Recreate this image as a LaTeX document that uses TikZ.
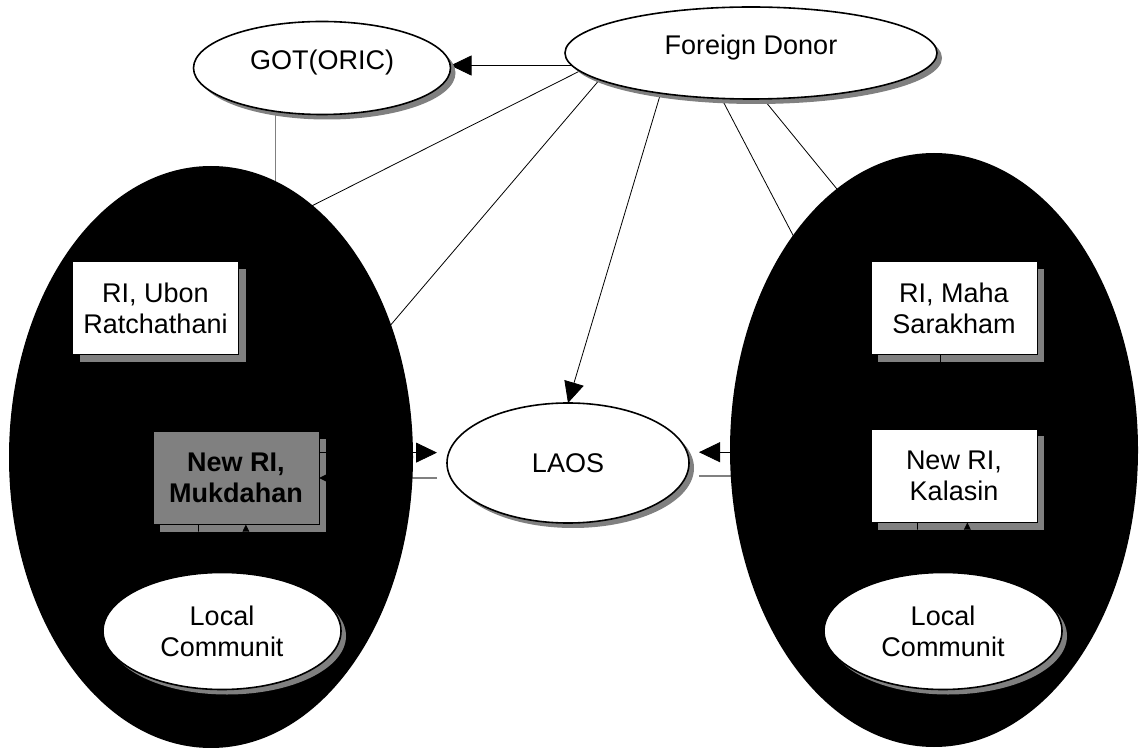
\documentclass[tikz,border=0pt]{standalone}
\usepackage{fontspec}
\setmainfont{Liberation Sans}
\usetikzlibrary{shapes,shadows,arrows.meta}
\pgfdeclarelayer{links}
\pgfdeclarelayer{groups}
\pgfsetlayers{links,groups,main}

% links that run inside the black groups
\newcommand{\innerlinks}{%
  \draw[arr,shorten >=5pt] (muk.17) -- (muk.17 -| laos.west);
  \draw[greyarr,shorten <=5pt] (muk.east -| laos.west) -- (muk.east);
  \draw[arr,shorten >=5pt] (kal.164) -- (kal.164 -| laos.east);
  \draw[greyarr,shorten <=5pt] (kal.west -| laos.east) -- (kal.west);
  \draw[arr] (muk.282 |- locl.north) -- (muk.282);
  \draw (muk.231) -- (muk.231 |- locl.north);
  \draw[arr] (kal.286 |- locr.north) -- (kal.286);
  \draw (kal.232) -- (kal.232 |- locr.north);
  \draw (maha.254) -- (maha.254 |- kal.north);
}

\begin{document}
\begin{tikzpicture}[x=0.5pt,y=-0.5pt,
    font=\fontsize{13.5}{15.5}\selectfont,
    oval/.style={ellipse,draw,line width=0.8pt,fill=white,inner sep=1pt,outer sep=0pt,align=center,
      drop shadow={shadow xshift=2.5pt,shadow yshift=-2.5pt,fill=gray,opacity=1}},
    ribox/.style={rectangle,draw,line width=0.5pt,fill=white,align=center,outer sep=0pt,
      minimum width=83pt,minimum height=46.5pt,
      drop shadow={shadow xshift=3.5pt,shadow yshift=-3.5pt,fill=gray,opacity=1}},
    blob/.style={ellipse,fill=black,outer sep=0pt},
    arr/.style={-{Triangle[length=10.5pt,width=10pt]}},
    greyline/.style={draw=gray,line width=0.7pt},
    greyarr/.style={greyline,-{Triangle[length=10.5pt,width=10pt,color=black]}},
    toptext/.style={text depth=8pt}]
  \useasboundingbox (0,0) rectangle (1140,748);

  \begin{pgfonlayer}{groups}
    \node[blob,minimum width=202pt,minimum height=291pt] (leftgrp) at (211,457) {};
    \node[blob,minimum width=204pt,minimum height=297pt] (rightgrp) at (934,450) {};
  \end{pgfonlayer}

  \node[oval,toptext,minimum width=128.5pt,minimum height=46.5pt] (got) at (322,68) {GOT(ORIC)};
  \node[oval,toptext,minimum width=186pt,minimum height=46pt] (fd) at (751,53) {Foreign Donor};
  \node[oval,minimum width=121pt,minimum height=60pt] (laos) at (568,463) {LAOS};
  \node[oval,minimum width=119pt,minimum height=58.5pt] (locl) at (222,631) {Local\\Communit};
  \node[oval,minimum width=119pt,minimum height=58.5pt] (locr) at (943,631) {Local\\Communit};

  \node[ribox] (ubon) at (155.5,308.5) {RI, Ubon\\Ratchathani};
  \node[ribox] (maha) at (954,308.5) {RI, Maha\\Sarakham};
  \node[ribox,fill=gray,font=\fontsize{13.5}{15.5}\selectfont\bfseries] (muk) at (236,478) {New RI,\\Mukdahan};
  \node[ribox] (kal) at (954,476) {New RI,\\Kalasin};

  \begin{pgfonlayer}{links}
    \draw[arr] (fd.184) -- (fd.184 -| got.east);
    \draw[arr] (fd.204) -- (laos.north);
    \draw (fd.186) -- (ubon.46);
    \draw (fd.190) -- (muk.36);
    \draw (fd.237) -- (kal.142);
    \draw (fd.285) -- (maha.141);
    \draw[greyline] (got.223) -- (got.223 |- muk.north);
    \innerlinks
  \end{pgfonlayer}

  % ends that show on the box shadows
  \begin{scope}
    \clip ([shift={(3.5pt,-3.5pt)}]muk.south west) rectangle ([shift={(3.5pt,-3.5pt)}]muk.north east)
          ([shift={(3.5pt,-3.5pt)}]kal.south west) rectangle ([shift={(3.5pt,-3.5pt)}]kal.north east)
          ([shift={(3.5pt,-3.5pt)}]maha.south west) rectangle ([shift={(3.5pt,-3.5pt)}]maha.north east);
    \innerlinks
  \end{scope}
\end{tikzpicture}
\end{document}
